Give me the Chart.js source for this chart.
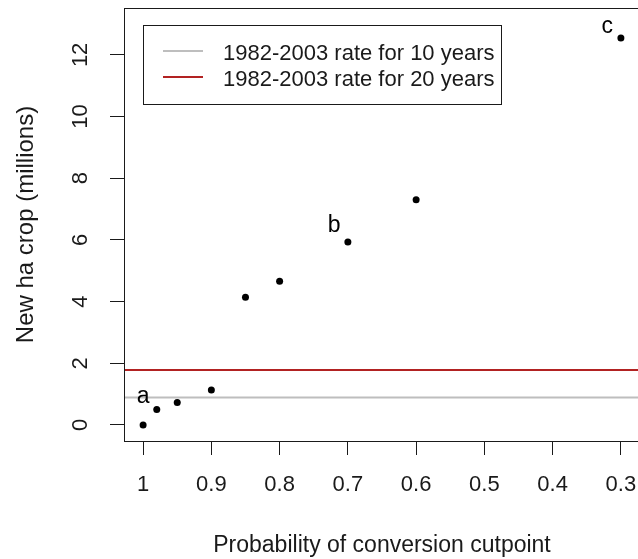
<!DOCTYPE html>
<html><head><meta charset="utf-8">
<script src="https://cdn.jsdelivr.net/npm/chart.js@4.4.1/dist/chart.umd.min.js"></script>
<style>html,body{margin:0;padding:0;overflow:hidden;background:#fff;width:638px;height:559px}
canvas{position:absolute;left:0;top:0}</style></head>
<body><canvas id="c" width="645" height="559"></canvas>
<script>
const cutpoints = [1, 0.98, 0.95, 0.9, 0.85, 0.8, 0.7, 0.6, 0.3];
const newCrop = [0, 0.5, 0.73, 1.13, 4.14, 4.66, 5.93, 7.3, 12.55];
const rate10 = 0.89;
const rate20 = 1.78;
const legendLabels = ['1982-2003 rate for 10 years', '1982-2003 rate for 20 years'];
const legendColors = ['#BEBEBE', '#B22222'];
const xTicks = [1, 0.9, 0.8, 0.7, 0.6, 0.5, 0.4, 0.3];
const yTicks = [0, 2, 4, 6, 8, 10, 12];
const noteText = ['a', 'b', 'c'];
const noteX = [1, 0.72, 0.32];
const noteY = [0.92, 6.45, 12.93];
const xRange = [0.272, 1.028];
const yRange = [-0.52, 13.52];

const FONT = '"Liberation Sans", Arial, sans-serif';
const INK = '#1a1a1a';

function noPad(s) { s.paddingLeft = 0; s.paddingRight = 0; s.paddingTop = 0; s.paddingBottom = 0; }

const framePlugin = {
  id: 'frame',
  afterDraw(chart) {
    const ctx = chart.ctx, a = chart.chartArea;
    const xs = chart.scales.x, ys = chart.scales.y;
    ctx.save();
    ctx.strokeStyle = INK; ctx.lineWidth = 1;
    ctx.strokeRect(Math.round(a.left) + 0.5, Math.round(a.top) + 0.5,
      Math.round(a.right - a.left), Math.round(a.bottom - a.top));
    // legend
    const L = 143.5, T = 25.5, R = 501.5, B = 104.5;
    ctx.strokeRect(L, T, R - L, B - T);
    ctx.font = '22px ' + FONT;
    ctx.textBaseline = 'alphabetic';
    ctx.textAlign = 'left';
    legendLabels.forEach((lab, i) => {
      const y = 51 + i * 26;
      ctx.strokeStyle = legendColors[i]; ctx.lineWidth = 2;
      ctx.beginPath(); ctx.moveTo(163, y); ctx.lineTo(203, y); ctx.stroke();
      ctx.fillStyle = INK;
      ctx.fillText(lab, 223, y + 9);
    });
    // point notes
    ctx.font = '23px ' + FONT;
    ctx.textAlign = 'center';
    ctx.textBaseline = 'middle';
    ctx.fillStyle = '#000';
    noteText.forEach((t, i) => {
      ctx.fillText(t, xs.getPixelForValue(noteX[i]), ys.getPixelForValue(noteY[i]));
    });
    ctx.restore();
  }
};

new Chart(document.getElementById('c'), {
  type: 'scatter',
  data: {
    datasets: [
      { type: 'line', data: [{x: xRange[0], y: rate10}, {x: xRange[1], y: rate10}],
        borderColor: legendColors[0], borderWidth: 2, pointRadius: 0, fill: false },
      { type: 'line', data: [{x: xRange[0], y: rate20}, {x: xRange[1], y: rate20}],
        borderColor: legendColors[1], borderWidth: 2, pointRadius: 0, fill: false },
      { data: cutpoints.map((c, i) => ({x: c, y: newCrop[i]})),
        backgroundColor: '#000', borderColor: '#000', pointRadius: 3.5, borderWidth: 0 }
    ]
  },
  options: {
    responsive: false,
    animation: false,
    layout: { padding: { left: 0, top: 8, right: 5, bottom: 0 } },
    plugins: { legend: { display: false }, tooltip: { enabled: false } },
    scales: {
      x: {
        type: 'linear', reverse: true, min: xRange[0], max: xRange[1],
        afterBuildTicks: s => { s.ticks = xTicks.map(v => ({ value: v })); },
        afterFit: s => { s.height = 118; noPad(s); },
        border: { display: false },
        grid: { display: true, drawOnChartArea: false, drawTicks: true, tickLength: 14, color: INK, tickWidth: 1 },
        ticks: { color: INK, font: { family: FONT, size: 22 }, padding: 17, maxRotation: 0, autoSkip: false,
          callback: v => String(v) },
        title: { display: true, text: 'Probability of conversion cutpoint', color: INK,
          font: { family: FONT, size: 23 }, padding: { top: 0, bottom: 0 } }
      },
      y: {
        type: 'linear', min: yRange[0], max: yRange[1],
        afterBuildTicks: s => { s.ticks = yTicks.map(v => ({ value: v })); },
        afterFit: s => { s.width = 124; noPad(s); },
        border: { display: false },
        grid: { display: true, drawOnChartArea: false, drawTicks: true, tickLength: 14, color: INK, tickWidth: 1 },
        ticks: { color: INK, font: { family: FONT, size: 22 }, padding: 17, minRotation: 90, maxRotation: 90,
          crossAlign: 'center', autoSkip: false, callback: v => String(v) },
        title: { display: true, text: 'New ha crop (millions)', color: INK,
          font: { family: FONT, size: 24 }, padding: { top: 12, bottom: 0 } }
      }
    }
  },
  plugins: [framePlugin]
});
</script>
</body></html>
